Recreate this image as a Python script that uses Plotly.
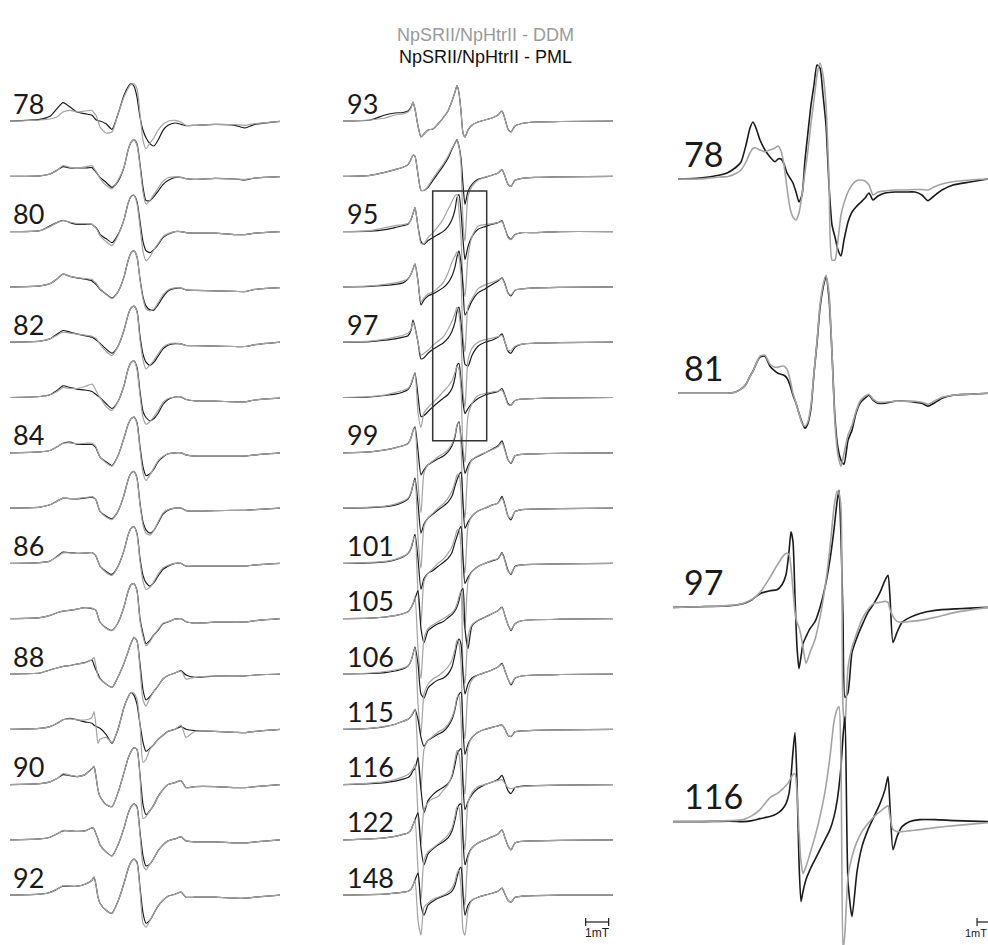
import plotly.graph_objects as go

# ---------------------------------------------------------------------------
# Field positions (mT from the start of each displayed sweep)
# ---------------------------------------------------------------------------
LEFT_FIELD = [0, 1.304, 1.739, 2.043, 2.304, 2.609, 2.913, 3.261, 3.565, 3.652, 3.739, 3.826,
              3.913, 4.174, 4.435, 4.696, 4.957, 5.130, 5.261, 5.391, 5.522, 5.652, 5.783,
              5.913, 6.087, 6.261, 6.435, 6.652, 6.870, 7.174, 7.435, 7.652, 8.043, 8.913,
              9.783, 10.217, 10.652, 11.739]

MID_FIELD = [0, 1.174, 1.826, 2.261, 2.609, 2.826, 2.957, 3.043, 3.130, 3.261, 3.391, 3.522,
             3.696, 3.913, 4.130, 4.348, 4.565, 4.739, 4.870, 4.957, 5.043, 5.130, 5.217,
             5.304, 5.435, 5.609, 5.870, 6.174, 6.478, 6.739, 6.913, 7.043, 7.174, 7.304,
             7.478, 7.783, 8.348, 9.435, 11.739]

ZOOM_FIELD_A = [0.217, 1.174, 2.043, 2.348, 2.696, 2.957, 3.174, 3.348, 3.478, 3.609, 3.783,
                4.000, 4.217, 4.435, 4.565, 4.696, 4.826, 4.957, 5.087, 5.217, 5.348, 5.478,
                5.609, 5.739, 5.870, 6.000, 6.130, 6.261, 6.391, 6.522, 6.652, 6.783, 6.913,
                7.043, 7.174, 7.304, 7.435, 7.609, 7.783, 7.957, 8.130, 8.348, 8.522, 8.696,
                8.913, 9.217, 9.652, 10.087, 10.522, 10.826, 11.087, 11.348, 11.696, 12.174,
                12.913, 13.696]

ZOOM_FIELD_B = [0, 1.174, 2.478, 3.043, 3.435, 3.783, 4.217, 4.522, 4.739, 4.913, 5.043, 5.130,
                5.217, 5.304, 5.391, 5.478, 5.565, 5.652, 5.783, 5.957, 6.174, 6.391, 6.609,
                6.826, 7.000, 7.130, 7.217, 7.304, 7.391, 7.478, 7.609, 7.783, 8.000, 8.217,
                8.478, 8.739, 9.000, 9.217, 9.348, 9.435, 9.565, 9.739, 9.957, 10.304,
                10.739, 11.391, 12.261, 13.696]

# ---------------------------------------------------------------------------
# First-derivative cw EPR amplitudes (arb. units); PML = black, DDM = grey
# ---------------------------------------------------------------------------
PML_78 = [0, 1.7, 4.7, 12.3, 18.3, 14, 9, 7.3, 5.7, 3.5, 1.3, 0.5, 0, -2.7, -8.3, 7, 25.7, 34, 37.3, 34.7, 24, 4, -9.3, -16.7, -22.7, -25, -19.3, -9.3, -4.3, -2, -3.3, -4.7, -4.3, -3.3, -4.3, -7, -3.3, -0.3]
DDM_78 = [0, 1, 2, 4, 9, 10.7, 9, 10, 10.7, 8, 5.7, 0, -6, -12, -11, 7.3, 24, 32.3, 36.7, 37.3, 32.3, 7.3, -19.3, -27.7, -22, -16.7, -9.3, -3.3, -0.3, 0.7, -1, -4.3, -4.3, -3.3, -3.7, -4.3, -2.7, -0.3]
PML_79 = [0, 0.5, 2.3, 6, 9.7, 8.3, 8.3, 8.3, 8.7, 6.5, 4.3, 1.5, -1, -6, -11, -5, 9, 26, 34, 36.7, 32.3, 12.3, -11, -24.3, -24.3, -20.3, -15, -8.3, -4.3, -1, -1, -2.3, -3, -2, -2.7, -3.7, -1.7, -0.3]
DDM_79 = [0, 0.5, 2.3, 6, 10.7, 9, 8.5, 9.5, 10.7, 8, 5, 1.5, -2, -9, -12.5, -4, 9, 26, 34, 37, 31, 10, -16, -27.7, -24, -18, -12, -5, -1.5, -0.5, -1, -2.3, -3, -2, -2.7, -3, -1.7, -0.3]
PML_80 = [0, 1, 5.7, 9, 11.3, 9, 7.3, 7.3, 7.3, 5.5, 4, 1, -2.7, -7, -11, -3, 12, 28, 35, 36.3, 30, 10, -10, -19, -21, -18, -13, -6, -2.7, 0, 0, -1, -1.5, -1.5, -3, -3, -1.5, 0]
DDM_80 = [0, 1, 5, 9, 11, 9.5, 8, 8, 7.5, 5.5, 3.5, 0, -4, -10, -14, -4, 12, 28, 35, 36.3, 28, 5, -20, -29, -25, -18, -12, -5, -2, 0, 0, -1, -1.5, -1.5, -3, -3, -1.5, 0]
PML_81 = [0, 1, 3.3, 8, 12.7, 10.5, 9, 7.7, 6, 4.3, 2.5, 0, -2.3, -7, -11.3, -5, 10, 26, 34, 36, 30, 8, -10, -19, -23, -23, -18, -10, -4, -1.5, -1.3, -3, -3.5, -4, -4.5, -4.7, -2.5, -0.7]
DDM_81 = [0, 1, 3.3, 8, 12.7, 10.5, 9.3, 8.3, 7.5, 5.5, 4, 1, -2, -7, -11.7, -5, 10, 26, 34, 36, 30, 7, -12, -22, -24, -22, -16, -8, -3, -1, -1.3, -3, -3.5, -4, -4.5, -4.7, -2.5, -0.7]
PML_82 = [0, 1, 3.3, 8, 11.7, 10, 8.3, 6.5, 5, 3.8, 2.5, 0.7, -1, -6.7, -11, -4, 12, 27, 34, 36, 31, 6, -12, -20, -23.3, -20, -14, -6.7, -3, -1.5, -1.7, -3.3, -3.5, -4, -4.3, -4.3, -2.5, 0]
DDM_82 = [0, 1, 3.3, 7, 10, 9, 8, 7, 6, 5, 4, 1, -2, -9, -13.3, -4, 12, 27, 34, 36, 30, 2, -18, -26.7, -23, -18, -12, -5, -2, -1, -1.7, -3.3, -3.5, -4, -4.3, -4.3, -2.5, 0]
PML_83 = [0, 1, 2.7, 7, 11.7, 10, 8.3, 7.5, 6, 4.5, 3, 1.5, 0, -6, -11, -4, 12, 28, 35, 36.7, 30, 6, -14, -20, -23.3, -21, -16, -7, -2, 0.5, 0.7, -2, -3.3, -3.7, -4.3, -4.3, -2.5, -0.7]
DDM_83 = [0, 1, 2.7, 6, 10, 9, 9, 11, 13.3, 11, 7, 3, 0, -9, -13, -4, 12, 28, 35, 36.7, 28, 2, -20, -26.7, -24, -19, -13, -5, -1, 0.5, 0.7, -2, -3.3, -3.7, -4.3, -4.3, -2.5, -0.7]
PML_84 = [0, 1, 2.3, 6, 9.5, 10.7, 8.5, 8.3, 8.3, 7, 5, 0, -4.3, -9, -12.7, -3, 15, 28, 34, 35.7, 30, 6, -14, -22.7, -21, -16, -9, -4.3, -1, 0, 0, -2, -3.3, -3.3, -3.3, -3.3, -2, 0]
DDM_84 = [0, 1, 2.3, 6, 9.5, 10, 9, 9.5, 9.7, 8, 6, 0, -4, -10, -13.5, -3, 15, 28, 34, 35.7, 29, 3, -20, -27.7, -22, -15, -8, -3.5, -1, 0, 0, -2, -3.3, -3.3, -3.3, -3.3, -2, 0]
PML_85 = [0, 1, 3.3, 7, 10, 9.5, 9.3, 10, 11, 10, 8.3, 2, -3.3, -8, -10.7, -3, 13, 28, 35, 36.7, 30, 5, -14, -21.7, -25, -22, -15, -6, -2, 0, 0, -2.5, -3, -2.5, -2.3, -2.3, -1.5, 0]
DDM_85 = [0, 1, 3.3, 7, 10, 9.5, 9.5, 10.5, 11.5, 10.5, 8.5, 2, -3, -9, -11.5, -3, 13, 28, 35, 36.7, 29, 3, -17, -25, -27, -22, -14, -5, -1.5, 0, 0, -2.5, -3, -2.5, -2.3, -2.3, -1.5, 0]
PML_86 = [0, 0.8, 2.3, 7, 11.3, 10.7, 10, 10.3, 10.7, 9.5, 7.3, 2, -2.7, -8, -11, -3, 13, 28, 35, 36.7, 30, 5, -12, -19.3, -22.7, -19, -12.7, -6, -2.7, 0, 0, -2.7, -2.7, -2.7, -2.7, -2.7, -1.5, 0]
DDM_86 = [0, 0.8, 2.3, 6.5, 10.5, 10.5, 10, 10.3, 10.7, 9.5, 7.5, 2, -2.5, -9, -12, -3, 13, 28, 35, 36.7, 29, 2, -18, -26, -24, -18, -11, -4.5, -2, 0, 0, -2.7, -2.7, -2.7, -2.7, -2.7, -1.5, 0]
PML_87 = [0, 1, 3.3, 6, 7.5, 8.3, 9.5, 11, 10, 9.5, 8.3, 2, -3.3, -9, -11.7, -4, 12, 27, 34, 35, 28, 0, -15, -25, -21.7, -16, -11.7, -5, -3.3, -0.5, 0, -3, -4.3, -3.5, -3.3, -3.3, -2, 0]
DDM_87 = [0, 1, 3.3, 6, 7.5, 8.5, 9.5, 11, 10.5, 9.5, 8.3, 2, -3.3, -9.5, -12, -4, 12, 27, 34, 35, 27, -2, -18, -27, -23, -16, -11, -4.5, -3, -0.5, 0, -3, -4.3, -3.5, -3.3, -3.3, -2, 0]
PML_88 = [0, 1, 4, 6, 7.5, 8.5, 10, 11.3, 14, 9, 4, 0, -4.3, -10, -13.3, -3, 10.7, 22, 30.7, 36.7, 33, 10, -16, -26, -22.7, -17, -12, -5, -1.5, 1, 3.3, -1, -3.3, -2, -2, -2, -1, 0]
DDM_88 = [0, 1, 4, 6, 7.5, 8.5, 10, 11.3, 14.5, 16.7, 8, -2, -5, -10, -13.3, -3, 10.7, 22, 30.7, 36.7, 33, 5, -26, -32, -24, -17, -12, -5, -1.5, 1, 3, -5, -3.3, -2, -2, -2, -1, 0]
PML_89 = [0, 1, 2.7, 6, 9.5, 11, 9.5, 7.5, 6, 4, 3, 2, 1, -5, -14, 0, 22, 32, 36.7, 34, 25, 5, -13, -22, -19, -15, -10, -6, -2, 0, 2.7, 0, -1.3, -2, -3, -3.3, -2, 0]
DDM_89 = [0, 1, 2.7, 6, 9.5, 10.5, 9.5, 9.3, 12, 17.7, 3, -14, -10, -8, -13, 0, 22, 32, 36.7, 36, 30, 5, -33, -30, -20, -15, -10, -6, -2, 0, 4.3, -8, -2, -2, -3, -3.3, -2, 0]
PML_90 = [0, 1, 2.7, 6, 10, 9, 8, 10, 16, 18, 8, -5, -12, -20, -22, -8, 12, 26, 33, 37, 35, 10, -20, -30, -26, -20, -12, -5, 0, 2, 4, -3, -2, -2, -3, -3, -2, 0]
DDM_90 = [0, 1, 2.7, 6, 11, 9.5, 8, 10, 16, 18.5, 8, -5, -12, -20, -22, -8, 12, 26, 33, 37, 35, 8, -34, -32, -26, -20, -12, -5, 0, 2, 4, -3, -2, -2, -3, -3, -2, 0]
PML_91 = [0, 1, 2.7, 6, 9, 9, 8.5, 9, 12, 11, 6, 1, -5, -12, -16, -5, 12, 26, 33, 36, 33, 8, -16, -26, -24, -18, -11, -5, -1, 1, 3, -1, -2, -2, -3, -3, -2, 0]
DDM_91 = [0, 1, 2.7, 6, 9.5, 9, 8.5, 9, 12, 11, 6, 1, -5, -12, -16, -5, 12, 26, 33, 36, 32, 5, -25, -30, -24, -18, -11, -5, -1, 1, 3, -1, -2, -2, -3, -3, -2, 0]
PML_92 = [0, 1, 2.7, 6, 9, 9, 9, 11, 15, 18, 10, -2, -8, -15, -18, -6, 12, 26, 33, 36, 33, 8, -18, -28, -25, -18, -11, -5, -1, 1, 3, -2, -2, -2, -3, -3, -2, 0]
DDM_92 = [0, 1, 2.7, 6, 9.5, 9, 9, 11, 15, 18, 10, -2, -8, -15, -18, -6, 12, 26, 33, 36, 32, 5, -28, -32, -25, -18, -11, -5, -1, 1, 3, -2, -2, -2, -3, -3, -2, 0]

PML_93 = [0, 1, 6, 8, 8.5, 10, 14, 19, 12, -5, -16, -13, -9, -8, -3, 3, 10, 20, 29, 35.5, 28, 10, -12, -16, -9, -4, -1, 1, 3, 6, 10, 2, -8, -11, -5, -2.5, -1, -0.5, 0]
DDM_93 = [0, 1, 3, 6, 7, 9, 13, 19, 12, -5, -16, -13, -9, -8, -3, 3, 10, 20, 29, 35.5, 28, 10, -12, -16, -9, -4, -1, 1, 3, 6, 10, 2, -8, -11, -5, -2.5, -1, -0.5, 0]
PML_94 = [0, 1, 4, 6.7, 9, 11.7, 17, 21, 20, 2, -14, -14, -11, -4, 3, 10, 18, 27, 33, 36.7, 30, 18, -8, -28, -15, -8, -3, -1, 1, 3.3, 6.7, 0, -8, -10, -4, -2, -1, -0.5, 0]
DDM_94 = [0, 1, 4, 6.7, 9, 11.7, 17, 21, 20, 2, -14, -14, -10, -2, 5, 12, 20, 28, 33, 36, 30, 12, -45, -65, -20, -10, -4, -1, 1, 3.3, 6.7, 0, -8, -10, -4, -2, -1, -0.5, 0]
PML_95 = [0, 0.5, 2, 4, 6, 7.3, 12, 18, 24, 5, -10, -12.7, -9, -6, -3, 0, 5, 12, 22, 34, 37, 20, -7.7, -28, -15, -5, 2.3, 5, 7.3, 9, 10.7, 3, -5, -7.7, -3, -1, -1, 0, 0]
DDM_95 = [0, 1, 4, 6, 7, 8, 12, 18, 24, 5, -12, -12, -6, -1, 5, 12, 22, 30, 36, 37, 20, -5, -50, -65, -25, -5, 5.7, 7, 8, 9, 10, 3, -6, -8, -3, -1, -1, 0, 0]
PML_96 = [0, 0.5, 1.5, 2.5, 4, 8, 13, 18, 23, 6, -18, -13, -9, -7, -4, -1, 4, 11, 20, 30, 36, 24, 0, -28, -23, -14, -6, -2, 2.5, 6, 9, 3, -6, -9, -3.3, -2, -1, -0.5, 0]
DDM_96 = [0, 1, 2.5, 4, 6, 8, 13, 18, 23, 5, -15, -11, -7, -5, -1, 4, 14, 25, 31, 35, 30, 10, -50, -65, -20, -12, -2, 2, 4.5, 7, 8.3, 2, -6.7, -8, -3, -2, -1, -0.5, 0]
PML_97 = [0, 0.5, 2, 3.3, 5, 6.5, 12, 22, 15, 0, -16.7, -15.5, -11, -7, -4, -1, 4, 11, 20, 31, 35, 20, -5, -22, -24, -13, -4, 0, 2, 5, 8.3, 0, -9, -11, -5, -2, -1, -0.5, 0]
DDM_97 = [0, 1, 3, 5, 7, 9, 13, 20, 14, 0, -13, -11, -8, -3, 1, 5, 13, 21, 29, 35, 28, 8, -50, -65, -18, -6, 0, 2.5, 4, 5.5, 6.7, 0, -8, -8.3, -4, -2, -1, -0.5, 0]
PML_98 = [0, 0.5, 2, 3.3, 5.5, 8, 13, 19, 24.7, 2, -19, -18, -14, -9.3, -5, -1, 3, 9, 20, 32, 34, 17, -5, -16, -11, -6, -1, 2.5, 4.5, 6, 9, 2, -6, -7.7, -3, -1.5, -1, -0.5, 0]
DDM_98 = [0, 1, 2.5, 5, 7, 9, 14, 20, 24, -15, -30, -15, -10, -5, 0, 5.7, 11, 17, 25, 31, 28, 8, -50, -65, -18, -6, 2, 4, 5.5, 6.5, 7.3, 1, -7, -7.7, -3, -1.5, -1, -0.5, 0]
PML_99 = [0, 1, 3, 5, 7, 9.3, 15, 22, 26, 2, -22, -17, -12, -9, -6, -3.5, 1, 7, 16, 27, 31, 15, -5, -20.7, -13, -7, -3.5, 0, 3.5, 7, 12, 3, -7, -10.7, -3, -1.5, -1, -0.5, 0]
DDM_99 = [0, 1, 3, 5, 7, 9, 15, 22, 25, -30, -60, -20, -12, -8, -4, -1, 3, 9, 18, 28, 30, 8, -50, -65, -18, -7, -3, 0, 3, 6, 10, 2, -7, -10, -3, -1.5, -1, -0.5, 0]
PML_100 = [0, 0.5, 1.5, 3, 6, 9, 15, 23, 30, 5, -25, -16, -10, -6, -2, 1.7, 6, 12, 22, 28.3, 33, 36, 5, -20, -14, -8, -3, 0, 3, 5, 11.7, 3, -8, -11.7, -3.5, -1.5, -1, -0.5, 0]
DDM_100 = [0, 1, 2, 4, 7, 10, 16, 24, 28, -30, -60, -18, -10, -5, 0, 4, 10, 17, 26, 33, 34, 15, -50, -65, -18, -8, -3, 0, 3, 5, 10, 2, -8, -10, -3.5, -1.5, -1, -0.5, 0]
PML_101 = [0, 0.5, 1.5, 3.5, 6.5, 10, 15, 22, 29, 5, -26, -15, -10, -7, -3, 0.7, 5, 11, 21, 27, 33, 37, 5, -20, -14, -8, -3, 0, 2.5, 4.5, 10.7, 3, -7, -11, -3, -1.5, -1, -0.5, 0]
DDM_101 = [0, 1, 2, 4, 7, 10, 16, 23, 27, -30, -60, -18, -10, -5, 0, 4, 10, 17, 26, 33, 34, 15, -50, -65, -18, -8, -3, 0, 3, 5, 10, 2, -8, -10, -3.5, -1.5, -1, -0.5, 0]
PML_105 = [0, 0.5, 1.7, 3, 5, 7, 11, 15, 20, 28, -10, -24, -12, -8, -5, -3, 1, 4, 8, 12, 18, 27, 30, -10, -30, -7, -1.7, 1.5, 5, 8, 11.7, 3, -6, -11.7, -5, -2, -1, -0.5, 0]
DDM_105 = [0, 0.5, 1.7, 3, 5, 7, 11, 15, 22, -30, -60, -20, -10, -6, -3, 0, 3, 6, 10, 15, 22, 28, -50, -65, -18, -6, -1.5, 1.5, 5, 8, 11, 3, -6, -11, -5, -2, -1, -0.5, 0]
PML_106 = [0, 0.5, 1.3, 3, 5, 8, 13, 20, 27, 10, -20, -24, -14, -9.3, -6, -4.3, 0, 7, 20, 30, 35, 30, 0, -20, -10, -4, -1, 1.5, 4, 7, 10.7, 3, -5, -11, -4.3, -2, -1, -0.5, 0]
DDM_106 = [0, 1, 2.5, 4, 6, 8, 13, 20, 26, -30, -60, -20, -10, -5, -2, 2, 7, 14, 25, 34, 30, 10, -50, -65, -18, -6, -1, 1.5, 4, 7, 10, 3, -5, -10, -4, -2, -1, -0.5, 0]
PML_115 = [0, 1, 2.7, 5, 8, 10, 13, 16, 20, 10, -8, -17, -11, -8, -5, -2.5, 3, 10, 20, 30, 35, 37, 0, -25, -15, -8, -3, 0, 2, 3.5, 4.3, 0, -6, -7.3, -2.5, -1.5, -1, -0.5, 0]
DDM_115 = [0, 1, 3, 5, 8, 10, 13, 17, 20, -30, -60, -20, -11, -7, -3, 0, 5, 12, 22, 32, 33, 10, -50, -65, -18, -8, -3, 0, 2, 3.5, 4.3, 0, -6, -7, -2.5, -1.5, -1, -0.5, 0]
PML_116 = [0, 1, 2, 3.5, 5.5, 7, 10, 14, 16, 27, -5, -28, -16, -10, -6, -3, 1, 8, 20, 30, 34, 36, 0, -25, -17, -10, -4, 0, 2.5, 5, 9.3, 2, -6, -9, -3, -1.5, -1, -0.5, 0]
DDM_116 = [0, 1.5, 3, 5, 7.7, 10, 13, 16, 20, -30, -60, -25, -18, -14, -12, -6, 0, 10, 25, 34, 30, 10, -50, -65, -18, -8, -2, 0, 2.5, 4, 5, 1, -3, -4, -3, -2, -1, -0.5, 0]
PML_122 = [0, 1, 2, 3.5, 5.5, 7, 10, 15, 20, 27, -8, -25, -14, -9, -5, -2, 2, 9, 20, 30, 35, 36, 0, -25, -15, -8, -3, 0, 3, 6, 10, 2, -6, -10, -3, -1.5, -1, -0.5, 0]
DDM_122 = [0, 1, 2, 3.5, 5.5, 7, 10, 15, 20, -30, -60, -20, -12, -8, -4, 0, 5, 12, 24, 33, 32, 10, -50, -65, -18, -8, -3, 0, 3, 6, 10, 2, -6, -10, -3, -1.5, -1, -0.5, 0]
PML_148 = [0, 0.5, 1, 2, 3, 4, 6, 10, 15, 22, -10, -20, -10, -6, -3, -1, 1, 4, 10, 18, 25, 28, 0, -20, -10, -5, -2, 0, 2, 4, 7, 1, -5, -7, -2, -1, -0.5, 0, 0]
DDM_148 = [0, 0.5, 1, 2, 3, 4, 6, 10, 15, -25, -40, -12, -8, -4, -2, 0, 3, 7, 14, 22, 25, 8, -35, -40, -15, -5, -2, 0, 2, 4, 7, 1, -5, -7, -2, -1, -0.5, 0, 0]

# enlarged spectra (right column), separate amplitude scale
PML_78_ZOOM = [0, 1, 4, 6, 11, 17, 34, 51, 57, 51, 39, 29, 22, 17.3, 20, 20, 15, 6, 1, -4, -13, -23, -16, 19, 47, 74, 94, 114, 111, 84, 54, -6, -46, -58, -71, -77, -61, -43, -33, -28, -24, -19, -14, -21, -17, -14, -13, -13, -13, -16, -21.7, -17, -11, -6, -3, 0]
DDM_78_ZOOM = [0, 0, 2, 2.3, 5, 9, 17, 26, 30.7, 31, 29, 27.3, 29, 31, 33, 28, 14, -9, -29, -38, -41, -34, -16, 7, 29, 56, 79, 104, 116, 104, 74, -1, -81, -81, -61, -36, -24, -13, -6, -2, -1, -2, -6, -16, -13, -12, -11, -11, -10.5, -10.5, -11, -8, -5, -2.7, -1, 0]
PML_81_ZOOM = [0, 0, 0, 0, 1, 4, 9, 17, 22, 29, 36, 37, 27, 22, 20, 19, 18, 15, 8, -2, -10, -20, -29, -35, -30, -15, 20, 50, 85, 105, 117, 95, 40, -25, -55, -67, -71, -47, -37, -20, -10, -5, -2, -7, -10, -10, -8, -8, -9, -10, -13, -10, -5, -2, -1, 0]
DDM_81_ZOOM = [0, 0, 0, 0, 1, 4, 9, 17, 22, 29, 37, 38, 29, 26, 26, 27, 27, 24, 14, 0, -10, -20, -30, -33, -28, -12, 20, 52, 88, 108, 118, 100, 40, -30, -62, -73, -60, -42, -32, -18, -8, -3, -1, -6, -9, -9, -8, -8, -8, -9, -11, -8, -4, -2, -1, 0]
PML_97_ZOOM = [0, 0.7, 1.7, 3.7, 7.7, 13.7, 16.7, 17.7, 22.7, 32.7, 55.7, 75.7, 65.7, 10.7, -39.3, -61.3, -49.3, -36.3, -29.3, -21.3, -14.3, 0, 20, 48, 78, 105, 117, 70, -10, -90, -85, -45, -30, -18, -5, 4, 15, 27, 32, 10, -35, -25, -15, -10, -6, -3, -1.5, 0]
DDM_97_ZOOM = [0, 0.7, 2, 4, 8, 15, 30, 42, 50, 54, 53, 40, 18, -5, -15, -20, -28, -40, -56, -45, -32, -10, 20, 60, 100, 116, 114, 100, -100, -120, -60, -40, -25, -12, -2, 4, 5, 6, 5, -2, -9, -14, -15, -14, -13, -10, -5, 0]
PML_116_ZOOM = [0, 0, 0.5, 0, 1, 3, 5, 8, 12, 18, 28, 45, 70, 89, 40, -40, -80, -70, -58, -48, -38, -28, -18, -8, 5, 20, 35, 55, 85, 105, -60, -95, -50, -25, -8, 5, 18, 32, 45, 15, -28, -15, -5, 0, 2, 2, 1, 0]
DDM_116_ZOOM = [0, 0, 1, 2, 6, 12, 24, 28, 32, 36, 40, 44, 47, 48, 30, -10, -40, -52, -45, -32, -15, 5, 30, 65, 100, 112, 115, 60, -130, -110, -55, -35, -20, -10, -2, 5, 10, 14, 16, 5, -8, -10, -10, -9, -8, -6, -4, -1]

LEFT_RESIDUES = [78, 79, 80, 81, 82, 83, 84, 85, 86, 87, 88, 89, 90, 91, 92]
LEFT_PML = [PML_78, PML_79, PML_80, PML_81, PML_82, PML_83, PML_84, PML_85, PML_86, PML_87,
            PML_88, PML_89, PML_90, PML_91, PML_92]
LEFT_DDM = [DDM_78, DDM_79, DDM_80, DDM_81, DDM_82, DDM_83, DDM_84, DDM_85, DDM_86, DDM_87,
            DDM_88, DDM_89, DDM_90, DDM_91, DDM_92]
LEFT_LABELED = [78, 80, 82, 84, 86, 88, 90, 92]

MID_RESIDUES = [93, 94, 95, 96, 97, 98, 99, 100, 101, 105, 106, 115, 116, 122, 148]
MID_PML = [PML_93, PML_94, PML_95, PML_96, PML_97, PML_98, PML_99, PML_100, PML_101, PML_105,
           PML_106, PML_115, PML_116, PML_122, PML_148]
MID_DDM = [DDM_93, DDM_94, DDM_95, DDM_96, DDM_97, DDM_98, DDM_99, DDM_100, DDM_101, DDM_105,
           DDM_106, DDM_115, DDM_116, DDM_122, DDM_148]
MID_LABELED = [93, 95, 97, 99, 101, 105, 106, 115, 116, 122, 148]

ZOOM_RESIDUES = [78, 81, 97, 116]
ZOOM_FIELDS = [ZOOM_FIELD_A, ZOOM_FIELD_A, ZOOM_FIELD_B, ZOOM_FIELD_B]
ZOOM_PML = [PML_78_ZOOM, PML_81_ZOOM, PML_97_ZOOM, PML_116_ZOOM]
ZOOM_DDM = [DDM_78_ZOOM, DDM_81_ZOOM, DDM_97_ZOOM, DDM_116_ZOOM]

# ---------------------------------------------------------------------------
# Layout constants
# ---------------------------------------------------------------------------
W, H = 988, 945
PX_PER_MT = 23.0
BLACK = "#1a1a1a"
GREY = "#a3a3a3"
FONT = "Lato"

# stacking (vertical units of the shared y axis, one unit per screen pixel)
SMALL_TOP, SMALL_STEP = 121.0, 55.3
ZOOM_TOP, ZOOM_STEP = 179.0, 214.2

# x origin (screen px) of each column's sweep start
ORIGIN = {"x": 10.0, "x2": 343.0, "x3": 673.0}


def xrange_for(axis):
    o = ORIGIN[axis]
    return [(0 - o) / PX_PER_MT, (W - o) / PX_PER_MT]


fig = go.Figure()


def add_pair(axis, field, pml, ddm, base, width):
    for vals, col in ((pml, BLACK), (ddm, GREY)):
        fig.add_trace(go.Scatter(
            x=field, y=[base + v for v in vals], mode="lines",
            line=dict(color=col, width=width, shape="spline", smoothing=0.6),
            xaxis=axis, yaxis="y", hoverinfo="skip", showlegend=False))


for i, res in enumerate(LEFT_RESIDUES):
    add_pair("x", LEFT_FIELD, LEFT_PML[i], LEFT_DDM[i], -(SMALL_TOP + i * SMALL_STEP), 1.2)
for i, res in enumerate(MID_RESIDUES):
    add_pair("x2", MID_FIELD, MID_PML[i], MID_DDM[i], -(SMALL_TOP + i * SMALL_STEP), 1.2)
for i, res in enumerate(ZOOM_RESIDUES):
    add_pair("x3", ZOOM_FIELDS[i], ZOOM_PML[i], ZOOM_DDM[i], -(ZOOM_TOP + i * ZOOM_STEP), 1.6)

annotations = []
for i, res in enumerate(LEFT_RESIDUES):
    if res in LEFT_LABELED:
        annotations.append(dict(x=0.05, y=-(SMALL_TOP + i * SMALL_STEP) + 18, xref="x", yref="y",
                                text=str(res), showarrow=False, xanchor="left", yanchor="middle",
                                font=dict(family=FONT, size=27, color=BLACK)))
for i, res in enumerate(MID_RESIDUES):
    if res in MID_LABELED:
        annotations.append(dict(x=0.08, y=-(SMALL_TOP + i * SMALL_STEP) + 18, xref="x2", yref="y",
                                text=str(res), showarrow=False, xanchor="left", yanchor="middle",
                                font=dict(family=FONT, size=27, color=BLACK)))
for i, res in enumerate(ZOOM_RESIDUES):
    annotations.append(dict(x=0.4, y=-(ZOOM_TOP + i * ZOOM_STEP) + 26, xref="x3", yref="y",
                            text=str(res), showarrow=False, xanchor="left", yanchor="middle",
                            font=dict(family=FONT, size=34, color=BLACK)))

# sample legend as a two-line heading
annotations.append(dict(x=485 / W, y=1 - 35 / H, xref="paper", yref="paper",
                        text="NpSRII/NpHtrII - DDM", showarrow=False, xanchor="center",
                        yanchor="middle", font=dict(family="Liberation Sans", size=18, color="#9a9a9a")))
annotations.append(dict(x=485 / W, y=1 - 57 / H, xref="paper", yref="paper",
                        text="NpSRII/NpHtrII - PML", showarrow=False, xanchor="center",
                        yanchor="middle", font=dict(family="Liberation Sans", size=18, color="#111111")))

shapes = []
# highlighted region in the middle stack
shapes.append(dict(type="rect", xref="x2", yref="y", x0=3.90, x1=6.248, y0=-191, y1=-440.7,
                   line=dict(color="#333333", width=1.5), fillcolor="rgba(0,0,0,0)"))

# 1 mT scale bars (the right one runs off the page edge)
BAR_Y = -922
for axis, x0 in (("x2", 10.55), ("x3", 13.22)):
    shapes.append(dict(type="line", xref=axis, yref="y", x0=x0, x1=x0 + 1, y0=BAR_Y, y1=BAR_Y,
                       line=dict(color=BLACK, width=1.2)))
    for xe in (x0, x0 + 1):
        shapes.append(dict(type="line", xref=axis, yref="y", x0=xe, x1=xe, y0=BAR_Y - 4,
                           y1=BAR_Y + 4, line=dict(color=BLACK, width=1.2)))

# scale-bar captions; the right one is kept inside the page
annotations.append(dict(x=10.55 + 0.5, y=BAR_Y - 11, xref="x2", yref="y", text="1mT",
                        showarrow=False, xanchor="center", yanchor="middle",
                        font=dict(family="Liberation Sans", size=12, color=BLACK)))
annotations.append(dict(x=1.0, y=BAR_Y - 11, xref="paper", yref="y", text="1mT",
                        showarrow=False, xanchor="right", yanchor="middle", borderpad=0,
                        font=dict(family="Liberation Sans", size=11, color=BLACK)))

hidden = dict(visible=False, showgrid=False, zeroline=False, fixedrange=True)
fig.update_layout(
    width=W, height=H, margin=dict(l=0, r=0, t=0, b=0),
    paper_bgcolor="white", plot_bgcolor="white",
    xaxis=dict(domain=[0, 1], range=xrange_for("x"), anchor="y", **hidden),
    xaxis2=dict(domain=[0, 1], range=xrange_for("x2"), anchor="y", overlaying="x", **hidden),
    xaxis3=dict(domain=[0, 1], range=xrange_for("x3"), anchor="y", overlaying="x", **hidden),
    yaxis=dict(domain=[0, 1], range=[-H, 0], **hidden),
    annotations=annotations, shapes=shapes, showlegend=False,
)

fig.write_html("out.html")
